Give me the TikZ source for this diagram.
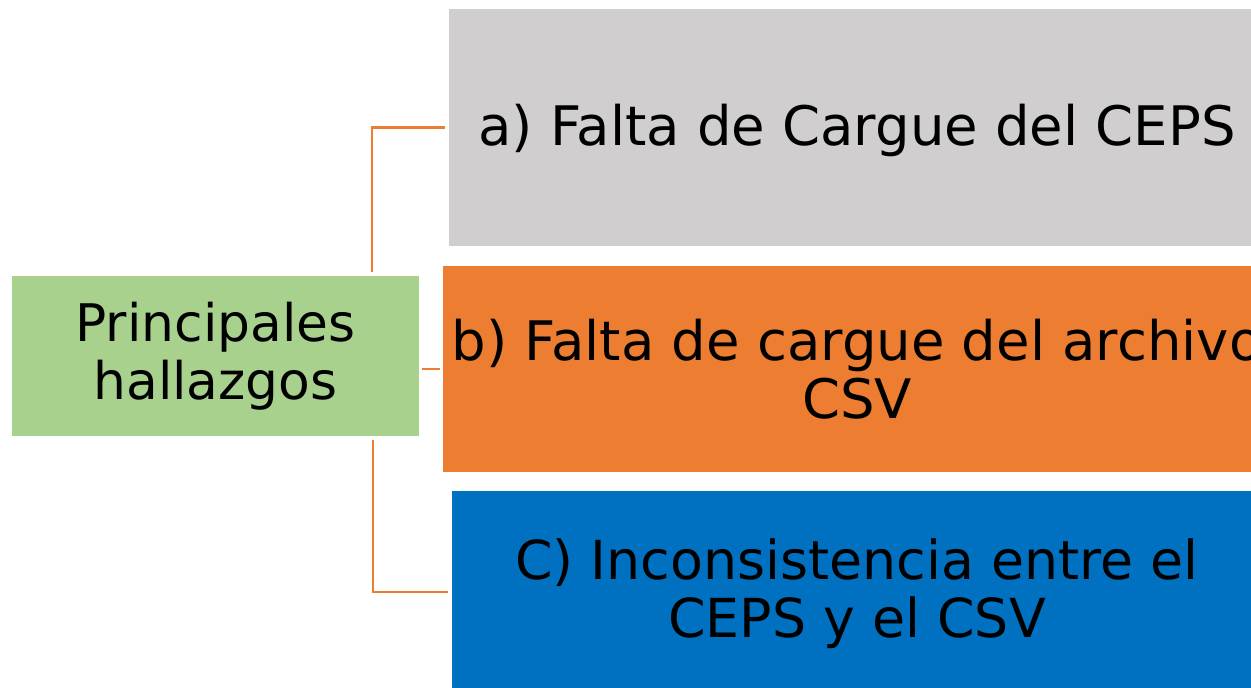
\documentclass[tikz,border=0pt]{standalone}
\usepackage{fontspec}
\setmainfont{DejaVu Sans}
\definecolor{boxgreen}{HTML}{A9D18E}
\definecolor{boxgray}{HTML}{D0CECF}
\definecolor{boxorange}{HTML}{ED7D31}
\definecolor{boxblue}{HTML}{0070C0}
\tikzset{
  finding/.style={rectangle, inner sep=0pt, align=center, text=black,
    font=\fontsize{31}{33}\selectfont},
  link/.style={draw=boxorange, line width=1.6pt}
}
\begin{document}
\begin{tikzpicture}[x=0.02cm, y=-0.02cm]
    % Page frame
    \useasboundingbox (0,0) rectangle (1251,687);
    \clip (0,0) rectangle (1251,687);

    % Root box
    \node[finding, fill=boxgreen, minimum width=8.14cm, minimum height=3.2cm,
      font=\fontsize{29.5}{33}\selectfont] (root) at (215.5,356) {Principales\\hallazgos};

    % Findings
    \node[finding, fill=boxgray, minimum width=16.32cm, minimum height=4.74cm] (fa) at (857,127.5) {\raisebox{-0.06cm}[\height][\depth]{a) Falta de Cargue del CEPS}};
    \node[finding, fill=boxorange, minimum width=16.56cm, minimum height=4.12cm] (fb) at (857,369) {b) Falta de cargue del archivo\\CSV};
    \node[finding, fill=boxblue, minimum width=16.2cm, minimum height=4.12cm,
      font=\fontsize{30.6}{33}\selectfont] (fc) at (857,594) {C) Inconsistencia entre el\\CEPS y el CSV};

    % Connectors
    \coordinate (up) at (372,0);
    \coordinate (down) at (373,0);
    \draw[link, shorten <=0.07cm, shorten >=0.07cm] (root.north -| up) |- (fa.west);
    \draw[link, shorten <=0.06cm, shorten >=0.06cm] (root.east |- fb.west) -- (fb.west);
    \draw[link, shorten <=0.07cm, shorten >=0.07cm] (root.south -| down) |- ([yshift=0.04cm]fc.west);
\end{tikzpicture}
\end{document}
